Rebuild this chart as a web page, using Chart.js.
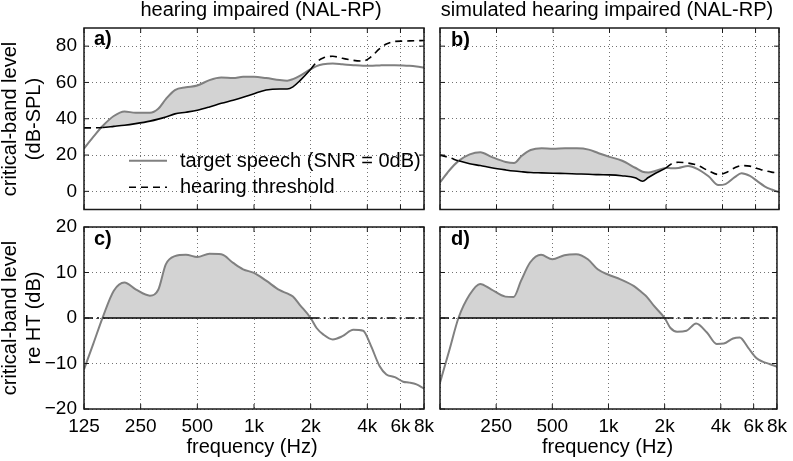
<!DOCTYPE html>
<html>
<head>
<meta charset="utf-8">
<script src="https://cdn.jsdelivr.net/npm/chart.js@4.4.1/dist/chart.umd.min.js"></script>
<style>
body{margin:0;background:#fff;}
#page{position:relative;width:793px;height:461px;overflow:hidden;font-family:"Liberation Sans",Arial,sans-serif;color:#000;}
canvas{position:absolute;left:0;top:0;}
.txt{position:absolute;font-size:20px;line-height:20px;white-space:nowrap;z-index:5;}
.centre{transform:translateX(-50%);}
.lab{font-weight:bold;}
.ytitre{position:absolute;width:200px;height:48px;line-height:24px;font-size:20px;text-align:center;white-space:nowrap;transform:rotate(-90deg);z-index:5;}
svg{position:absolute;left:0;top:0;z-index:4;}
</style>
</head>
<body>
<div id="page">
  <canvas id="ga" width="793" height="461"></canvas>
  <canvas id="gb" width="793" height="461"></canvas>
  <canvas id="gc" width="793" height="461"></canvas>
  <canvas id="gd" width="793" height="461"></canvas>

  <div class="txt centre" style="left:261px;top:-1.2px">hearing impaired (NAL-RP)</div>
  <div class="txt centre" style="left:607px;top:-1.2px">simulated hearing impaired (NAL-RP)</div>

  <div class="ytitre" style="left:-79px;top:94.5px">critical-band level<br>(dB-SPL)</div>
  <div class="ytitre" style="left:-79px;top:294px">critical-band level<br>re HT (dB)</div>

  <div class="txt centre" style="left:252px;top:436px">frequency (Hz)</div>
  <div class="txt centre" style="left:607.5px;top:436px">frequency (Hz)</div>

  <div class="txt lab" style="left:94px;top:28px">a)</div>
  <div class="txt lab" style="left:451px;top:29px">b)</div>
  <div class="txt lab" style="left:94px;top:228px">c)</div>
  <div class="txt lab" style="left:451px;top:228px">d)</div>

  <!-- legende du graph a -->
  <svg width="793" height="461">
    <line x1="129" y1="160.7" x2="167" y2="160.7" stroke="#808080" stroke-width="2"/>
    <line x1="129" y1="187.3" x2="167" y2="187.3" stroke="#000" stroke-width="1.6" stroke-dasharray="7,5"/>
  </svg>
  <div class="txt" style="left:180px;top:149.7px">target speech (SNR = 0dB)</div>
  <div class="txt" style="left:180px;top:175.8px">hearing threshold</div>
</div>

<script>
// donnees
var freq=[125,140,157,180,205,235,280,310,340,380,435,500,580,670,775,875,1000,1160,1370,1500,1610,1750,2000,2150,2330,2620,2950,3370,3800,4150,4650,5050,5600,6200,6700,7300,8000]

var speechA=[23.6,30,36,41.5,44,43.3,43.3,45.5,50.8,55.8,57.3,58.3,61.3,62.7,62.4,63.1,63.1,62.4,61.3,61,61.8,63.6,67.3,69,70,70.4,70,69.5,69.2,69.2,69.4,69.5,69.5,69.4,69.2,68.8,68.2]
var threshA=[35,35,35.2,35.8,36.4,37.3,38.7,39.8,41,42.7,43.6,44.7,46.5,48.5,50.2,51.8,53.8,55.8,56.4,56.4,57.6,60.9,67.3,71.2,73.5,74.4,73.3,72.2,71.8,73.8,78.6,81.2,82.6,82.8,82.9,83,83.1]

var speechB=[4.9,11.5,16.8,20.4,21.6,19,16.2,15.6,19.5,22.8,23.8,23.5,23.7,23.7,23,21,19,17,13,10.8,10.4,11.2,12.9,12.7,12.9,14,12.3,8.3,3.5,4,7.8,10,8.5,5.2,2.8,1,-0.5]
var threshB=[20,18.6,16.8,15.2,14.2,13,11.8,11.2,10.8,10.4,10.2,10,9.8,9.6,9.4,9.2,9.1,8.6,7.5,5.6,7.6,9.8,12.9,15.3,16,15.6,14.3,11.3,9.3,10.2,13,14.2,13.9,12.5,11.4,10.6,10]

var diffC=[-11.3,-5.7,0.1,6,7.8,6.3,4.9,6.2,11.8,13.6,13.9,13.4,14.1,14,12.1,10.7,9.9,8.2,6.1,5.4,4.7,2.9,0,-2.2,-3.6,-4.7,-4,-2.6,-2.8,-5.8,-10.6,-12.4,-13,-14,-14.2,-14.6,-15.5]
var diffD=[-14.2,-7.2,0,5.1,7.5,6.3,4.7,4.6,8.2,12.2,13.9,12.9,13.8,14,12.9,10.7,9.5,8.5,7,5.7,4.6,2.7,0,-2.2,-3,-2.8,-1.2,-3.2,-5.7,-5.6,-4.5,-4.3,-6.5,-8.8,-9.6,-10.1,-10.7]

var xTicks=[125,250,500,1000,2000,4000,6000,8000]
var xLabels=["125","250","500","1k","2k","4k","6k","8k"]
var xLabelsD=["","250","500","1k","2k","4k","6k","8k"]
var yTicksHaut=[0,20,40,60,80]
var yTicksBas=[-20,-10,0,10,20]

var gris="#808080"
var grisFond="#d3d3d3"

Chart.defaults.font.family="'Liberation Sans', Arial, sans-serif"
Chart.defaults.font.size=19
Chart.defaults.color="#000"

const LARG_Y=60  //place des etiquettes de l'axe y
const HAUT_X=30  //place des etiquettes de l'axe x

// cadre noir + petits traits vers l'interieur (comme matlab)
const cadre={
  id:"cadre",
  afterDatasetsDraw(chart){
    const ctx=chart.ctx, a=chart.chartArea, sx=chart.scales.x, sy=chart.scales.y
    const t=5
    ctx.save()
    ctx.strokeStyle="#1a1a1a"
    ctx.lineWidth=1
    ctx.beginPath()
    sx.ticks.forEach(tk=>{
      const px=sx.getPixelForValue(tk.value)
      ctx.moveTo(px,a.bottom); ctx.lineTo(px,a.bottom-t)
      ctx.moveTo(px,a.top); ctx.lineTo(px,a.top+t)
    })
    sy.ticks.forEach(tk=>{
      const py=sy.getPixelForValue(tk.value)
      ctx.moveTo(a.left,py); ctx.lineTo(a.left+t,py)
      ctx.moveTo(a.right,py); ctx.lineTo(a.right-t,py)
    })
    ctx.stroke()
    ctx.lineWidth=1.5
    ctx.strokeRect(a.left,a.top,a.right-a.left,a.bottom-a.top)
    ctx.restore()
  }
}

function points(arr){
  return freq.map((f,i)=>({x:f,y:arr[i]}))
}

function options(zone,yMin,yMax,yVals,xLab,yLab){
  const wy=yLab?LARG_Y:0
  const hx=xLab?HAUT_X:0
  return {
    responsive:false,
    animation:false,
    devicePixelRatio:1,
    events:[],
    layout:{padding:{left:zone.l-wy,right:793-zone.r,top:zone.t,bottom:461-zone.b-hx}},
    plugins:{legend:{display:false},tooltip:{enabled:false}},
    elements:{point:{radius:0}},
    scales:{
      x:{
        type:"logarithmic",min:125,max:8000,
        afterBuildTicks:s=>{s.ticks=xTicks.map(v=>({value:v}))},
        afterFit:s=>{s.height=hx},
        ticks:{display:!!xLab,autoSkip:false,maxRotation:0,minRotation:0,padding:6,
          callback:(v,i)=>xLab?xLab[i]:""},
        grid:{color:"rgba(0,0,0,0.55)",lineWidth:1,drawTicks:false},
        border:{display:false,dash:[1,3]}
      },
      y:{
        min:yMin,max:yMax,
        afterBuildTicks:s=>{s.ticks=yVals.map(v=>({value:v}))},
        afterFit:s=>{s.width=wy},
        ticks:{display:yLab,padding:7,
          callback:v=>String(v).replace("-","\u2212")},
        grid:{color:"rgba(0,0,0,0.55)",lineWidth:1,drawTicks:false},
        border:{display:false,dash:[1,3]}
      }
    }
  }
}

function grapheNiveau(id,zone,speech,thresh,yLab){
  // seuil: trait plein la ou la parole est au dessus, tirets sinon
  const audible=i=>speech[i]>=thresh[i]
  return new Chart(document.getElementById(id),{
    type:"line",
    data:{datasets:[
      {data:points(thresh),borderColor:"#000",borderWidth:1.6,fill:false,
        cubicInterpolationMode:"monotone",
        segment:{borderDash:c=>(audible(c.p0DataIndex)&&audible(c.p1DataIndex))?[]:[7,5]}},
      {data:points(speech),borderColor:gris,borderWidth:2,
        cubicInterpolationMode:"monotone",
        fill:{target:0,above:grisFond,below:"transparent"}}
    ]},
    options:options(zone,-10,90,yTicksHaut,null,yLab),
    plugins:[cadre]
  })
}

function grapheDiff(id,zone,diff,xLab,yLab){
  const zero=diff.map(()=>0)
  const audible=i=>diff[i]>=0
  return new Chart(document.getElementById(id),{
    type:"line",
    data:{datasets:[
      {data:points(zero),borderColor:"#000",borderWidth:1.6,fill:false,
        segment:{borderDash:c=>(audible(c.p0DataIndex)&&audible(c.p1DataIndex))?[]:[9,4,2,4]}},
      {data:points(diff),borderColor:gris,borderWidth:2,
        cubicInterpolationMode:"monotone",
        fill:{value:0,above:grisFond,below:"transparent"}}
    ]},
    options:options(zone,-20,20,yTicksBas,xLab,yLab),
    plugins:[cadre]
  })
}

grapheNiveau("ga",{l:84,r:424,t:28,b:209.5},speechA,threshA,true)
grapheNiveau("gb",{l:440,r:779,t:28,b:209.5},speechB,threshB,false)
grapheDiff("gc",{l:84,r:424,t:227,b:409},diffC,xLabels,true)
grapheDiff("gd",{l:440,r:779,t:227,b:409},diffD,xLabelsD,false)
</script>
</body>
</html>
